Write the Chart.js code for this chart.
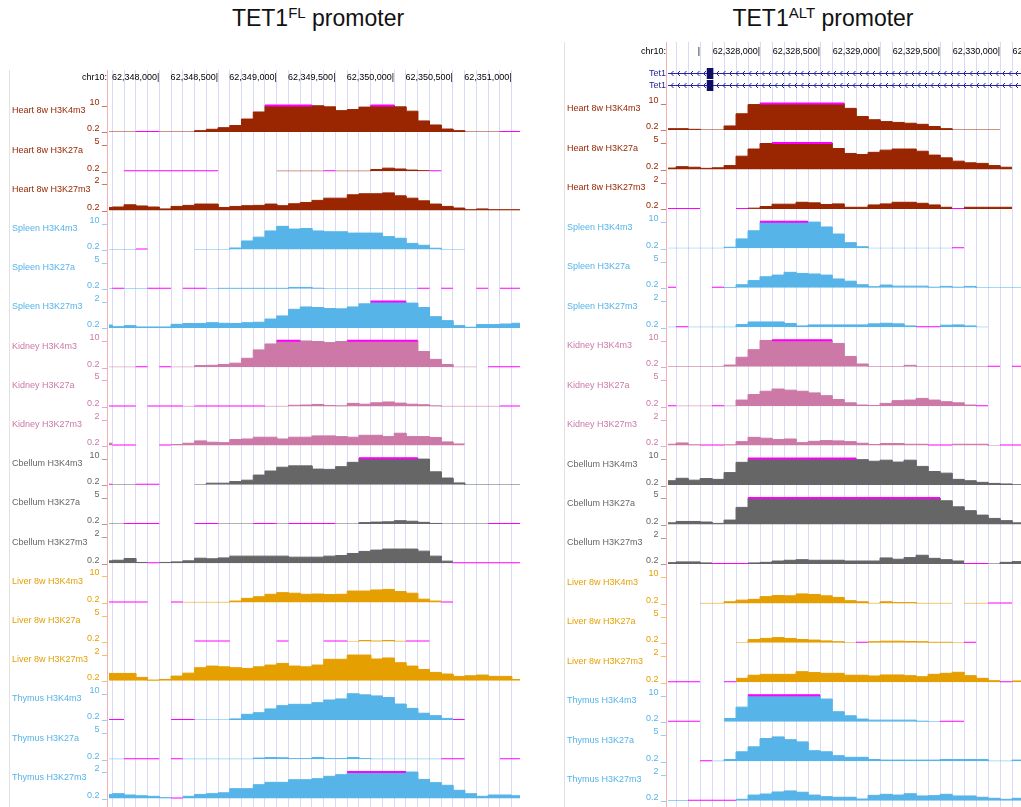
<!DOCTYPE html>
<html>
<head>
<meta charset="utf-8">
<title>TET1 promoters – histone marks</title>
<script src="https://cdn.jsdelivr.net/npm/chart.js@4.4.1/dist/chart.umd.min.js"></script>
<style>
  html, body { margin: 0; padding: 0; background: #fff; overflow: hidden; }
  body { width: 1021px; height: 807px; position: relative; }
  canvas { position: absolute; top: 0; }
  #flCanvas { left: 0; }
  #altCanvas { left: 560px; }
  .title { position: absolute; top: 7px; width: 260px; text-align: center;
           font-family: "Liberation Sans", Arial, sans-serif; font-size: 23px; line-height: 23px;
           color: #111; white-space: nowrap; }
  .title .sup { font-size: 15px; position: relative; top: -8px; }
</style>
</head>
<body>
<div class="title" style="left:188px">TET1<span class="sup">FL</span> promoter</div>
<div class="title" style="left:693px">TET1<span class="sup">ALT</span> promoter</div>
<canvas id="flCanvas" width="560" height="807"></canvas>
<canvas id="altCanvas" width="520" height="807"></canvas>
<script>
const N = null;

// Genomic windows shown in each browser panel
const flWindow  = { chrom: 'chr10', start: 62347572, end: 62351071 };
const altWindow = { chrom: 'chr10', start: 62327233, end: 62330650 };
const binSize = 100;

// Ruler ticks
const flRulerTicks  = [62348000, 62348500, 62349000, 62349500, 62350000, 62350500, 62351000];
const altRulerTicks = [62327500, 62328000, 62328500, 62329000, 62329500, 62330000, 62330500];
const altRulerUnlabelled = [62327500];

// Track list
const trackNames = [
  'Heart 8w H3K4m3', 'Heart 8w H3K27a', 'Heart 8w H3K27m3',
  'Spleen H3K4m3', 'Spleen H3K27a', 'Spleen H3K27m3',
  'Kidney H3K4m3', 'Kidney H3K27a', 'Kidney H3K27m3',
  'Cbellum H3K4m3', 'Cbellum H3K27a', 'Cbellum H3K27m3',
  'Liver 8w H3K4m3', 'Liver 8w H3K27a', 'Liver 8w H3K27m3',
  'Thymus H3K4m3', 'Thymus H3K27a', 'Thymus H3K27m3'
];
const trackTissues = ['Heart','Heart','Heart','Spleen','Spleen','Spleen','Kidney','Kidney','Kidney',
                      'Cbellum','Cbellum','Cbellum','Liver','Liver','Liver','Thymus','Thymus','Thymus'];
const viewMin = 0.2;
const viewMax = [10, 5, 2, 10, 5, 2, 10, 5, 2, 10, 5, 2, 10, 5, 2, 10, 5, 2];
const tissueColors = { Heart: '#992600', Spleen: '#56b4e9', Kidney: '#cc79a7',
                       Cbellum: '#666666', Liver: '#e69f00', Thymus: '#56b4e9' };

// Signal per 100-bp bin, FL promoter window (null = no data)
const flHeartK4me3   = [0.2,0.2,0.2,0.1,0.1,0.2,0.2,0.2,0.7,1.2,1.8,2.6,5.0,7.6,11,11,11,11,9.9,9.5,8.1,8.5,9.4,11,11,9.5,7.9,4.3,2.8,1.3,0.7,0.2,0.2,0.2,0.1,0.1];
const flHeartK27ac   = [N,N,0.1,0.1,0.1,0.1,0.1,0.1,0.1,0.1,N,N,N,N,N,0.2,0.2,0.2,0.2,0.1,0.2,0.2,0.2,0.5,0.75,0.6,0.4,0.3,0.1,N,N,N,N,N,N,N];
const flHeartK27me3  = [0.4,0.43,0.58,0.5,0.43,0.3,0.47,0.54,0.63,0.63,0.4,0.47,0.52,0.54,0.63,0.52,0.65,0.74,0.88,1.03,1.03,1.26,1.33,1.33,1.39,1.19,1.03,0.85,0.63,0.47,0.36,0.25,0.3,0.25,0.25,0.25];
const flSpleenK4me3  = [0.2,0.2,0.2,0.1,N,N,N,N,0.2,0.2,0.2,0.8,3.4,4.8,7.1,8.8,7.8,8.0,7.1,6.8,6.8,6.3,6.3,6.3,5.0,4.4,2.5,1.8,0.7,0.2,0.2,N,N,N,N,N];
const flSpleenK27ac  = [0.2,0.1,0.2,0.2,0.1,0.1,N,0.1,0.1,0.2,0.28,0.28,0.28,0.28,0.28,0.28,0.45,0.45,0.3,0.2,0.2,0.2,0.2,0.2,0.2,0.2,0.2,0.1,N,0.1,N,N,0.1,N,0.1,0.1];
const flSpleenK27me3 = [0.4,0.29,0.36,0.27,0.27,0.27,0.45,0.5,0.5,0.56,0.52,0.5,0.56,0.59,0.81,1.02,1.47,1.63,1.59,1.52,1.5,1.63,1.84,2.2,2.2,2.2,1.89,1.59,0.97,0.7,0.36,0.25,0.43,0.43,0.47,0.52];
const flKidneyK4me3  = [0.2,0.2,0.2,0.1,N,0.1,0.2,0.2,0.8,0.9,1.2,1.7,3.5,6.6,8.8,11,11,9.9,9.7,9.3,9.7,11,11,11,11,11,11,6.0,3.1,1.2,0.2,0.2,N,0.1,0.1,0.1];
const flKidneyK27ac  = [0.1,0.1,0.1,N,0.1,0.1,0.1,0.2,0.1,0.1,0.1,0.1,0.1,0.1,0.2,0.2,0.4,0.45,0.55,0.35,0.3,0.75,0.6,0.85,1.0,0.8,0.6,0.5,0.3,0.2,0.2,0.2,0.2,0.2,0.1,0.1];
const flKidneyK27me3 = [0.36,0.1,0.1,N,N,0.1,0.27,0.36,0.52,0.43,0.4,0.61,0.65,0.77,0.77,0.65,0.77,0.77,0.86,0.86,0.81,0.77,0.9,0.9,0.81,1.04,0.81,0.81,0.75,0.45,0.31,N,N,N,N,N];
const flCbellumK4me3 = [0.1,0.2,0.2,0.1,0.1,N,N,N,0.2,0.8,0.8,1.4,1.9,3.8,5.3,6.7,7.2,7.2,6.0,5.9,6.9,8.5,11,11,11,11,11,9.7,5.0,2.7,0.9,0.2,0.2,0.2,0.2,0.2];
const flCbellumK27ac = [0.2,0.2,0.1,0.1,0.1,N,N,N,0.1,0.1,0.2,0.2,0.2,0.1,0.1,0.2,0.1,0.1,0.1,0.1,0.2,0.2,0.45,0.55,0.6,0.8,0.7,0.5,0.3,0.2,0.2,0.2,0.2,0.1,0.1,0.1];
const flCbellumK27me3= [0.36,0.4,0.52,0.25,0.1,0.25,0.29,0.36,0.54,0.5,0.56,0.68,0.68,0.68,0.68,0.68,0.61,0.61,0.61,0.68,0.72,0.86,1.0,1.09,1.16,1.16,1.16,1.02,0.68,0.34,0.1,0.1,0.1,0.1,0.1,0.1];
const flLiverK4me3   = [0.1,0.1,0.1,0.1,N,N,0.1,0.2,0.2,0.2,0.2,0.7,1.7,2.3,3.2,3.8,3.6,3.2,3.3,3.1,3.2,4.4,4.4,4.8,5.0,4.2,3.6,1.4,0.7,0.1,N,N,N,N,N,N];
const flLiverK27ac   = [N,N,N,N,N,N,N,N,0.1,0.1,0.1,N,N,N,N,0.1,N,N,N,0.1,0.1,0.2,0.4,0.3,0.4,0.25,0.1,0.1,N,N,N,N,N,N,N,N];
const flLiverK27me3  = [0.7,0.7,0.7,0.43,0.25,0.29,0.52,0.72,1.09,1.2,1.15,1.09,1.04,1.15,1.27,1.38,1.2,1.15,1.27,1.66,1.66,1.95,1.95,1.68,1.75,1.43,1.2,0.97,0.77,0.66,0.5,0.54,0.59,0.5,0.5,0.29];
const flThymusK4me3  = [0.1,0.1,N,N,N,N,0.1,0.1,0.2,0.2,0.2,0.6,2.3,2.9,4.3,5.5,6.0,6.0,6.6,7.6,8.0,9.9,9.5,9.1,8.5,6.1,4.5,2.7,1.8,0.8,0.1,N,N,N,N,N];
const flThymusK27ac  = [0.2,0.2,0.1,0.1,0.1,N,0.1,0.2,0.2,0.2,0.2,0.2,0.2,0.4,0.5,0.45,0.3,0.3,0.5,0.3,0.3,0.5,0.3,0.2,0.2,0.2,0.2,0.2,0.2,0.1,0.1,N,N,N,0.1,0.1];
const flThymusK27me3 = [0.47,0.52,0.43,0.38,0.34,0.25,0.1,0.34,0.47,0.52,0.58,0.86,0.86,1.13,1.29,1.29,1.47,1.47,1.54,1.7,1.81,2.2,2.2,2.2,2.2,2.2,1.99,1.49,1.27,1.09,0.75,0.52,0.34,0.43,0.43,0.38];

// Signal per 100-bp bin, ALT promoter window (null = no data)
const altHeartK4me3   = [0.7,0.7,0.45,0.2,0.2,1.7,6.2,9.6,11,11,11,11,11,11,11,8.2,5.2,4.0,3.3,3.0,2.7,2.3,1.5,0.7,0.2,0.2,0.2,0.2,N,N];
const altHeartK27ac   = [0.45,0.7,0.6,0.4,0.5,0.9,2.6,3.9,4.9,5.5,5.5,5.5,5.5,5.5,4.0,3.1,2.9,3.3,3.7,3.9,3.9,3.5,2.8,2.3,1.7,1.4,1.3,0.9,0.6,N];
const altHeartK27me3  = [0.1,0.1,0.1,N,N,N,0.1,0.25,0.36,0.52,0.52,0.65,0.61,0.5,0.54,0.31,0.31,0.47,0.54,0.65,0.65,0.58,0.47,0.31,0.1,0.31,0.31,0.31,0.31,N];
const altSpleenK4me3  = [0.2,0.2,0.2,0.2,0.2,0.6,3.7,6.7,11,11,11,11,9.9,8.1,5.5,2.3,0.8,0.2,0.2,0.2,0.2,0.2,0.2,0.2,0.1,N,N,N,N,N];
const altSpleenK27ac  = [0.1,N,N,N,0.1,0.25,0.75,1.5,2.2,2.5,3.0,2.8,2.7,2.5,1.8,1.4,0.75,0.4,0.7,0.5,0.5,0.5,0.3,0.45,0.3,0.45,0.2,0.2,0.2,0.2];
const altSpleenK27me3 = [0.2,0.1,0.2,0.2,0.2,0.2,0.38,0.56,0.56,0.56,0.45,0.29,0.36,0.36,0.36,0.36,0.36,0.43,0.47,0.43,0.29,0.1,0.1,0.34,0.36,0.29,0.2,N,N,N];
const altKidneyK4me3  = [0.2,0.2,0.2,0.2,0.2,0.8,3.7,6.5,9.9,11,11,11,11,11,8.8,4.0,1.2,0.2,0.2,0.2,0.7,0.2,0.2,0.2,0.2,0.2,0.2,0.1,N,0.1];
const altKidneyK27ac  = [0.1,0.2,0.2,0.2,0.1,0.2,1.3,2.3,2.9,3.3,3.1,2.9,2.6,2.1,1.4,0.8,0.4,0.3,0.7,1.2,1.3,1.6,1.3,1.0,0.8,0.4,0.1,N,N,N];
const altKidneyK27me3 = [0.29,0.38,0.25,0.1,0.1,0.25,0.47,0.76,0.7,0.61,0.65,0.4,0.49,0.54,0.52,0.47,0.36,0.27,0.34,0.34,0.29,0.29,0.1,0.1,0.29,0.29,0.29,0.2,0.1,0.1];
const altCbellumK4me3 = [1.8,2.7,2.0,2.6,2.3,4.8,8.6,11,11,11,11,11,11,11,11,11,9.6,9.0,9.4,8.7,9.4,7.1,5.2,4.6,2.3,1.8,1.2,0.8,0.6,0.3];
const altCbellumK27ac = [0.5,0.75,0.75,0.65,0.4,1.0,3.3,5.5,5.5,5.5,5.5,5.5,5.5,5.5,5.5,5.5,5.5,5.5,5.5,5.5,5.5,5.5,5.5,4.5,3.4,2.7,1.9,1.3,0.9,0.5];
const altCbellumK27me3= [0.29,0.34,0.34,0.27,0.1,0.1,0.1,0.27,0.31,0.4,0.45,0.49,0.45,0.45,0.45,0.4,0.4,0.4,0.61,0.52,0.63,0.79,0.58,0.49,0.4,0.1,0.1,0.2,0.31,0.36];
const altLiverK4me3   = [N,N,N,0.2,0.2,0.8,1.4,1.7,2.7,3.1,3.0,3.7,3.5,3.0,2.4,1.2,0.8,0.2,0.8,0.5,0.5,0.2,0.2,0.2,N,0.2,0.2,0.1,0.1,N];
const altLiverK27ac   = [N,N,N,N,N,N,0.2,0.8,1.0,1.15,1.0,0.8,0.7,0.55,0.4,0.2,0.1,0.4,0.5,0.5,0.45,0.4,0.3,0.3,0.2,0.1,N,N,N,N];
const altLiverK27me3  = [0.1,0.1,0.1,N,N,0.1,0.47,0.68,0.74,0.74,0.74,0.92,0.86,0.81,0.81,0.68,0.68,0.63,0.7,0.7,0.65,0.58,0.74,0.81,0.88,0.65,0.47,0.31,0.1,0.29];
const altThymusK4me3  = [0.1,0.1,0.1,N,N,1.4,5.6,11,11,11,11,11,11,8.6,3.9,2.4,1.2,0.8,0.8,0.8,0.8,0.4,0.2,0.1,0.1,N,N,N,N,N];
const altThymusK27ac  = [N,N,N,0.1,0.2,0.5,1.9,2.8,4.3,4.6,4.1,3.7,2.1,1.9,1.2,0.9,0.9,0.5,0.4,0.4,0.4,0.4,0.4,0.5,0.5,0.5,0.5,0.2,0.2,0.4];
const altThymusK27me3 = [0.2,0.2,0.1,0.1,0.1,0.1,0.29,0.58,0.65,0.79,0.86,0.77,0.58,0.47,0.43,0.43,0.31,0.56,0.63,0.58,0.67,0.52,0.54,0.63,0.52,0.52,0.43,0.36,0.29,0.36];

// Tet1 transcripts (minus strand) crossing the ALT window
const tet1Transcripts = [
  { name: 'Tet1', start: 62326000, end: 62332000, exons: [[62327556, 62327611]] },
  { name: 'Tet1', start: 62326000, end: 62332000, exons: [[62327556, 62327611]] }
];

const flTracks = [flHeartK4me3, flHeartK27ac, flHeartK27me3, flSpleenK4me3, flSpleenK27ac, flSpleenK27me3,
  flKidneyK4me3, flKidneyK27ac, flKidneyK27me3, flCbellumK4me3, flCbellumK27ac, flCbellumK27me3,
  flLiverK4me3, flLiverK27ac, flLiverK27me3, flThymusK4me3, flThymusK27ac, flThymusK27me3];
const altTracks = [altHeartK4me3, altHeartK27ac, altHeartK27me3, altSpleenK4me3, altSpleenK27ac, altSpleenK27me3,
  altKidneyK4me3, altKidneyK27ac, altKidneyK27me3, altCbellumK4me3, altCbellumK27ac, altCbellumK27me3,
  altLiverK4me3, altLiverK27ac, altLiverK27me3, altThymusK4me3, altThymusK27ac, altThymusK27me3];

const FONT = '"Liberation Sans", Arial, Helvetica, sans-serif';
Chart.defaults.font.family = FONT;
Chart.defaults.font.size = 9;
const GRID_COLOR = '#d9d9f8';
const CLIP_COLOR = '#ff00ff';
const GENE_COLOR = '#26269c';
const EXON_COLOR = '#0d0d66';
const RULER_H = 14;   // height of the ruler band above the first track region

function binEdges(win) {
  const edges = [win.start];
  for (let b = Math.floor(win.start / binSize) * binSize + binSize; b < win.end; b += binSize) edges.push(b);
  edges.push(win.end);
  return edges;
}

// Step outline of one track plus the magenta markers for values outside the view limits
function trackSeries(values, edges, max) {
  const body = [], clip = [];
  for (let i = 0; i < edges.length - 1; i++) {
    const v = i < values.length ? values[i] : null;
    const s = edges[i], e = edges[i + 1];
    if (v === null) {
      body.push({ x: s, y: null }); clip.push({ x: s, y: null });
    } else if (v < viewMin) {
      body.push({ x: s, y: null });
      clip.push({ x: s, y: viewMin }, { x: e, y: viewMin });
    } else {
      const y = Math.min(v, max);
      body.push({ x: s, y }, { x: e, y });
      if (v > max) clip.push({ x: s, y: max }, { x: e, y: max });
      else clip.push({ x: s, y: null });
    }
  }
  return { body, clip };
}

function buildPanel(canvas, p) {
  const edges = binEdges(p.window);
  const scales = {};
  const datasets = [];
  const areaTop = p.gridTop + RULER_H;
  const fitY = s => { s.width = p.axisWidth; s.paddingTop = 0; s.paddingBottom = 0; };
  const spacer = (h, w) => ({
    type: 'linear', position: 'left', stack: 'tracks', stackWeight: h, weight: w, min: 0, max: 1,
    ticks: { display: false }, grid: { display: false, drawTicks: false }, border: { display: false },
    afterFit: fitY
  });

  // Ruler: 100-bp guide lines, labelled every 500 bp
  scales.x = {
    type: 'linear', position: 'top', min: p.window.start, max: p.window.end,
    afterBuildTicks: s => {
      const t = [];
      for (let b = Math.ceil(s.min / binSize) * binSize; b <= s.max; b += binSize) t.push({ value: b });
      s.ticks = t;
    },
    afterFit: s => { s.height = areaTop; s.paddingLeft = 0; s.paddingRight = 0; },
    grid: { color: GRID_COLOR, tickColor: GRID_COLOR, lineWidth: 1, drawTicks: true, tickLength: RULER_H },
    border: { display: false },
    ticks: {
      autoSkip: false, maxRotation: 0, minRotation: 0, align: 'end',
      padding: p.gridTop - p.rulerY - 5.4,
      color: '#000', font: { size: 9 },
      callback: v => p.ruler.includes(v)
        ? (p.rulerUnlabelled.includes(v) ? '' : v.toLocaleString('en-US')) + '|'
        : ''
    }
  };

  scales.padTop = spacer(p.firstTrackTop - areaTop, 1000);
  p.tracks.forEach((values, i) => {
    const id = 'track' + i;
    const max = viewMax[i];
    const color = tissueColors[trackTissues[i]];
    scales[id] = {
      type: 'linear', position: 'left', stack: 'tracks', stackWeight: p.trackHeight, weight: 500 - i,
      min: viewMin, max: viewMin + (max - viewMin) * p.trackHeight / p.dataHeight,
      afterBuildTicks: s => { s.ticks = [{ value: viewMin }, { value: max }]; },
      afterFit: fitY,
      grid: { display: false, drawTicks: false }, border: { display: false },
      ticks: {
        autoSkip: false, padding: 2, labelOffset: -3, color, font: { size: 9 },
        callback: v => (v === max ? String(max) : String(viewMin)) + ' _'
      }
    };
    const { body, clip } = trackSeries(values, edges, max);
    datasets.push({
      type: 'line', label: trackNames[i], data: body, xAxisID: 'x', yAxisID: id, order: 2,
      borderColor: color, backgroundColor: color, borderWidth: 1, fill: 'start',
      pointRadius: 0, tension: 0, spanGaps: false
    });
    datasets.push({
      type: 'line', label: trackNames[i] + ' (clipped)', data: clip, xAxisID: 'x', yAxisID: id, order: 1,
      borderColor: CLIP_COLOR, borderWidth: 2, fill: false,
      pointRadius: 0, tension: 0, spanGaps: false
    });
  });
  const lastBottom = p.firstTrackTop + p.trackHeight * p.tracks.length;
  scales.padBottom = spacer(canvas.height - lastBottom, -10);

  const decor = {
    id: 'trackDecor',
    afterDraw(chart) {
      const { ctx, chartArea } = chart;
      const h = chartArea.bottom - p.gridTop;
      ctx.save();
      ctx.fillStyle = '#e2e2e2';
      ctx.fillRect(p.frameX, p.gridTop, 1, h);
      ctx.fillStyle = '#f3b1b1';
      ctx.fillRect(chartArea.left - 2, p.gridTop, 1, h);

      ctx.font = '9px ' + FONT;
      ctx.textBaseline = 'middle';
      ctx.textAlign = 'right';
      ctx.fillStyle = '#000';
      ctx.fillText(p.window.chrom + ':', chartArea.left - 2, p.rulerY);

      ctx.textAlign = 'left';
      p.tracks.forEach((v, i) => {
        const s = chart.scales['track' + i];
        ctx.fillStyle = tissueColors[trackTissues[i]];
        ctx.fillText(trackNames[i], p.nameX, s.bottom - 21);
      });

      if (p.genes) {
        const xs = chart.scales.x;
        p.genes.forEach((g, r) => {
          const y = p.geneRows[r];
          ctx.fillStyle = GENE_COLOR;
          ctx.textAlign = 'right';
          ctx.fillText(g.name, chartArea.left - 2, y);
          ctx.save();
          ctx.beginPath();
          ctx.rect(chartArea.left, p.gridTop, chartArea.right - chartArea.left, h);
          ctx.clip();
          const x0 = Math.max(xs.getPixelForValue(g.start), chartArea.left);
          const x1 = Math.min(xs.getPixelForValue(g.end), chartArea.right);
          ctx.fillRect(x0, y - 0.5, x1 - x0, 1);
          ctx.strokeStyle = GENE_COLOR;
          ctx.lineWidth = 1;
          ctx.beginPath();
          for (let x = x0 + 3; x < x1; x += 6.5) {
            ctx.moveTo(x + 2.5, y - 2.5);
            ctx.lineTo(x, y);
            ctx.lineTo(x + 2.5, y + 2.5);
          }
          ctx.stroke();
          ctx.fillStyle = EXON_COLOR;
          g.exons.forEach(([s, e]) => {
            const a = xs.getPixelForValue(s), b = xs.getPixelForValue(e);
            ctx.fillRect(a, y - 5.5, b - a, 11);
          });
          ctx.restore();
        });
      }
      ctx.restore();
    }
  };

  return new Chart(canvas, {
    type: 'line',
    data: { datasets },
    options: {
      responsive: false, animation: false, devicePixelRatio: 1, events: [],
      layout: { padding: { left: 0, top: 0, right: p.rightPad, bottom: 0 } },
      plugins: { legend: { display: false }, tooltip: { enabled: false }, title: { display: false } },
      scales
    },
    plugins: [decor]
  });
}

buildPanel(document.getElementById('flCanvas'), {
  window: flWindow, tracks: flTracks, ruler: flRulerTicks, rulerUnlabelled: [],
  axisWidth: 109, rightPad: 40, gridTop: 70, rulerY: 77.7,
  firstTrackTop: 92.8, trackHeight: 39.2, dataHeight: 26.5,
  nameX: 12, frameX: 9
});

buildPanel(document.getElementById('altCanvas'), {
  window: altWindow, tracks: altTracks, ruler: altRulerTicks, rulerUnlabelled: altRulerUnlabelled,
  axisWidth: 108, rightPad: 2, gridTop: 42, rulerY: 51.7,
  firstTrackTop: 90.55, trackHeight: 39.45, dataHeight: 26.5,
  nameX: 7, frameX: 4, genes: tet1Transcripts, geneRows: [73.5, 85.5]
});
</script>
</body>
</html>
